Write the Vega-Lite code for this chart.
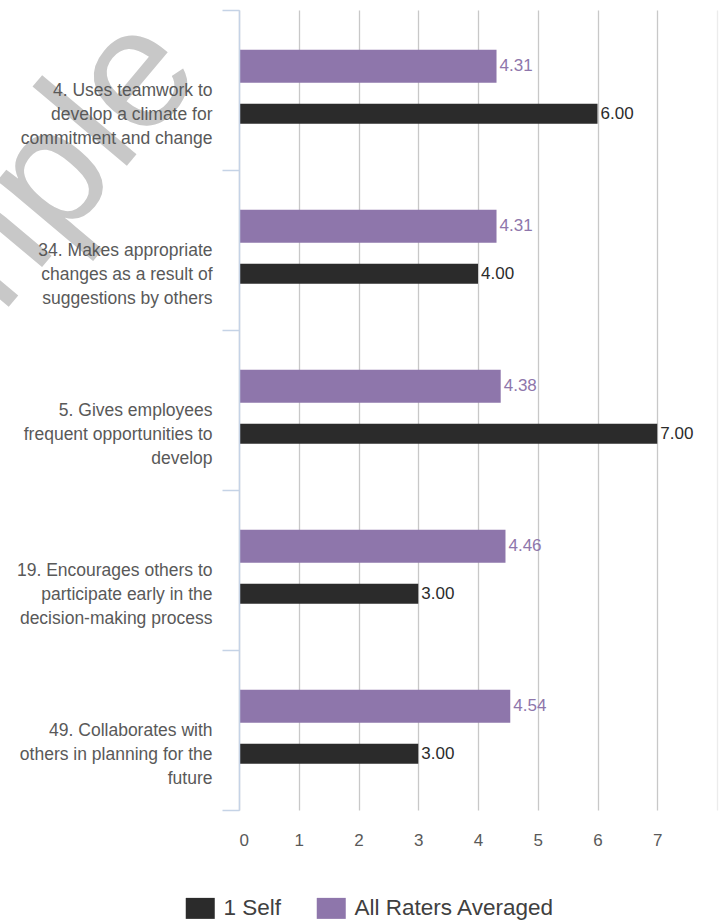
{
  "$schema": "https://vega.github.io/schema/vega-lite/v6.json",
  "width": 478,
  "height": 800,
  "autosize": {"type": "none"},
  "padding": {"left": 239, "top": 10, "right": 3, "bottom": 114},
  "background": "white",
  "config": {
    "view": {"stroke": null},
    "font": "Liberation Sans"
  },
  "datasets": {
    "bars": [
      {"item": "4. Uses teamwork to|develop a climate for|commitment and change", "series": "All Raters Averaged", "value": 4.31},
      {"item": "4. Uses teamwork to|develop a climate for|commitment and change", "series": "1 Self", "value": 6.00},
      {"item": "34. Makes appropriate|changes as a result of|suggestions by others", "series": "All Raters Averaged", "value": 4.31},
      {"item": "34. Makes appropriate|changes as a result of|suggestions by others", "series": "1 Self", "value": 4.00},
      {"item": "5. Gives employees|frequent opportunities to|develop", "series": "All Raters Averaged", "value": 4.38},
      {"item": "5. Gives employees|frequent opportunities to|develop", "series": "1 Self", "value": 7.00},
      {"item": "19. Encourages others to|participate early in the|decision-making process", "series": "All Raters Averaged", "value": 4.46},
      {"item": "19. Encourages others to|participate early in the|decision-making process", "series": "1 Self", "value": 3.00},
      {"item": "49. Collaborates with|others in planning for the|future", "series": "All Raters Averaged", "value": 4.54},
      {"item": "49. Collaborates with|others in planning for the|future", "series": "1 Self", "value": 3.00}
    ],
    "mark": [{"t": "Sample"}]
  },
  "layer": [
    {
      "data": {"name": "mark"},
      "mark": {"type": "text", "angle": -50, "fontSize": 170, "color": "#c8c8c8", "align": "center", "baseline": "middle"},
      "encoding": {
        "text": {"field": "t"},
        "x": {"datum": -4.33, "type": "quantitative"},
        "y": {"datum": "34. Makes appropriate|changes as a result of|suggestions by others", "type": "nominal", "bandPosition": 0.57}
      }
    },
    {
      "data": {"name": "bars"},
      "mark": {"type": "bar"},
      "encoding": {
        "y": {
          "field": "item", "type": "nominal", "sort": null,
          "scale": {
            "domain": [
              "4. Uses teamwork to|develop a climate for|commitment and change",
              "34. Makes appropriate|changes as a result of|suggestions by others",
              "5. Gives employees|frequent opportunities to|develop",
              "19. Encourages others to|participate early in the|decision-making process",
              "49. Collaborates with|others in planning for the|future"
            ],
            "paddingInner": 0, "paddingOuter": 0
          },
          "axis": {
            "title": null,
            "labelExpr": "split(datum.label, '|')",
            "labelFontSize": 17.5,
            "labelColor": "#595959",
            "labelLineHeight": 24,
            "labelLimit": 300,
            "labelPadding": 10,
            "tickSize": 17,
            "tickBand": "extent",
            "tickColor": "#c5d3e6",
            "tickWidth": 1.5,
            "domainColor": "#c5d3e6",
            "domainWidth": 1.5,
            "grid": false,
            "zindex": 1
          }
        },
        "yOffset": {
          "field": "series", "type": "nominal",
          "sort": ["All Raters Averaged", "1 Self"],
          "scale": {"paddingInner": 0, "paddingOuter": 0.684}
        },
        "x": {
          "field": "value", "type": "quantitative",
          "scale": {"domain": [0, 8], "nice": false},
          "axis": {
            "title": null,
            "values": [0, 1, 2, 3, 4, 5, 6, 7, 8],
            "labelExpr": "datum.value == 8 ? '' : datum.label",
            "format": "d",
            "domain": false,
            "ticks": false,
            "labelPadding": 22,
            "labelFontSize": 17,
            "labelColor": "#595959",
            "grid": true,
            "gridColor": {"condition": {"test": "datum.value == 8", "value": "#ececec"}, "value": "#c8c8c8"},
            "gridWidth": 1.3,
            "zindex": 0
          }
        },
        "size": {
          "condition": {"test": "datum.series == 'All Raters Averaged'", "value": 33},
          "value": 20
        },
        "color": {
          "field": "series", "type": "nominal",
          "scale": {"domain": ["1 Self", "All Raters Averaged"], "range": ["#2b2b2b", "#8e76ab"]},
          "legend": {
            "title": null,
            "orient": "none",
            "direction": "horizontal",
            "legendX": -50,
            "legendY": 887,
            "symbolStrokeWidth": 0,
            "labelFontSize": 22.5,
            "labelColor": "#404040",
            "labelOffset": 12,
            "labelLimit": 400,
            "columnPadding": 34,
            "symbolSize": 441,
            "symbolType": "M-1.381,-1L1.381,-1L1.381,1L-1.381,1Z",
            "symbolOpacity": 1
          }
        }
      }
    },
    {
      "data": {"name": "bars"},
      "mark": {"type": "text", "align": "left", "baseline": "middle", "dx": 3, "fontSize": 17},
      "encoding": {
        "y": {"field": "item", "type": "nominal", "sort": null},
        "yOffset": {"field": "series", "type": "nominal", "sort": ["All Raters Averaged", "1 Self"]},
        "x": {"field": "value", "type": "quantitative"},
        "text": {"field": "value", "type": "quantitative", "format": ".2f"},
        "color": {"field": "series", "type": "nominal"}
      }
    }
  ]
}
